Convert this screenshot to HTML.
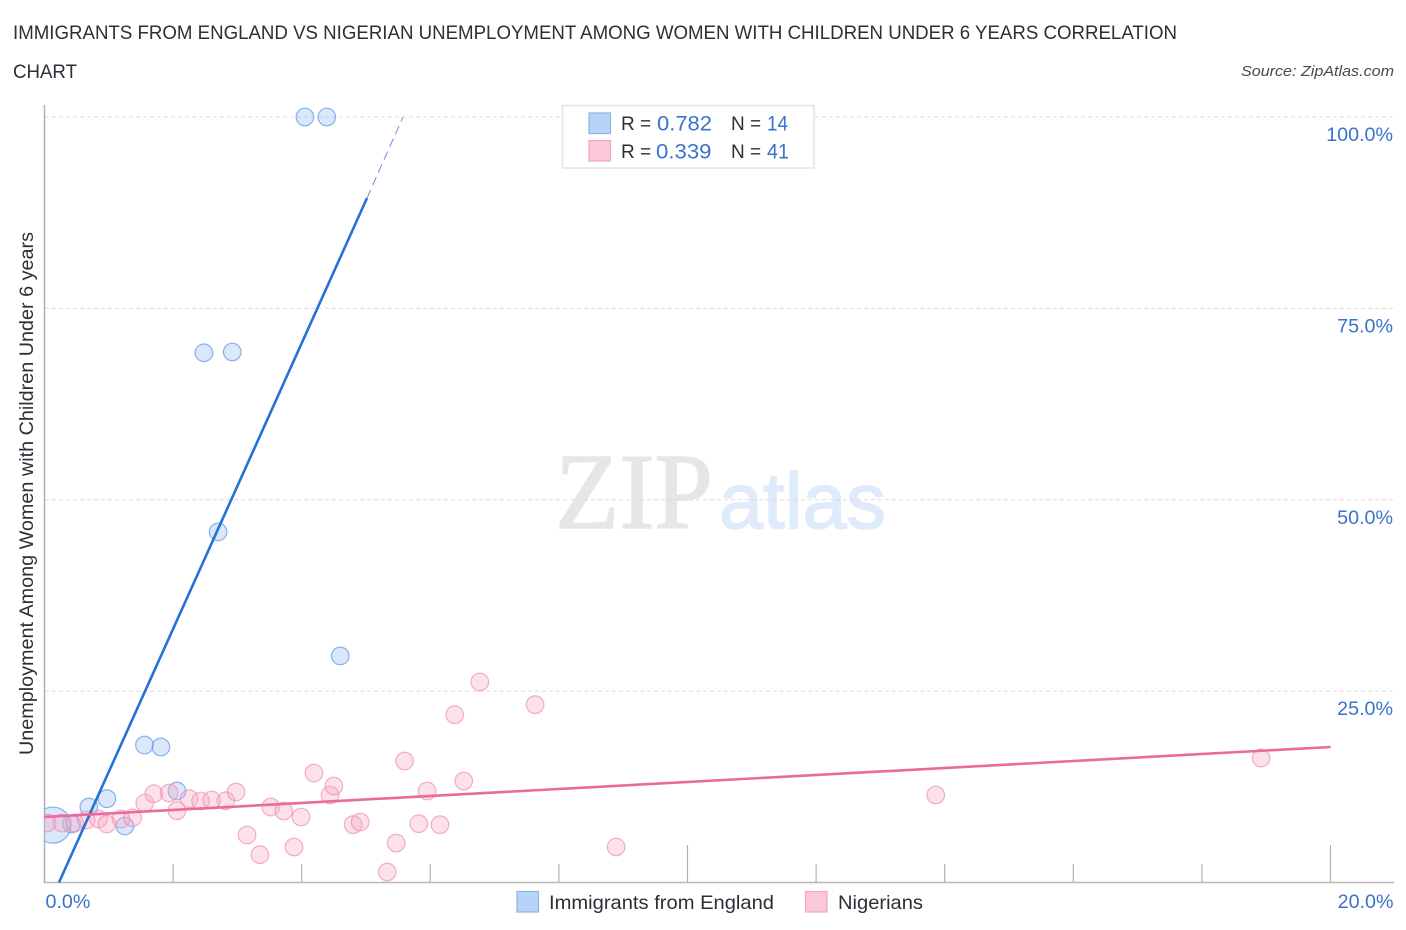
<!DOCTYPE html>
<html lang="en">
<head>
<meta charset="utf-8">
<title>Immigrants from England vs Nigerian Unemployment Correlation Chart</title>
<style>
  html, body { margin: 0; padding: 0; background: #fff; }
  svg { display: block; font-family: "Liberation Sans", sans-serif; }
  .blue { fill: #3a72cc; }
  .dark { fill: #2b2f36; }
</style>
</head>
<body>
<svg id="chart" xmlns="http://www.w3.org/2000/svg" width="1406" height="930" viewBox="0 0 1406 930">
  <defs>
    <clipPath id="plot-clip"><rect x="44.5" y="90" width="1350" height="793"/></clipPath>
  </defs>
  <rect x="0" y="0" width="1406" height="930" fill="#fff"/>

  <text class="dark" x="13" y="39" font-size="19" textLength="1164" lengthAdjust="spacingAndGlyphs">IMMIGRANTS FROM ENGLAND VS NIGERIAN UNEMPLOYMENT AMONG WOMEN WITH CHILDREN UNDER 6 YEARS CORRELATION</text>
  <text class="dark" x="13" y="78" font-size="19" textLength="64" lengthAdjust="spacingAndGlyphs">CHART</text>
  <text x="1394" y="76" font-size="15" font-style="italic" text-anchor="end" fill="#444a52" textLength="153" lengthAdjust="spacingAndGlyphs">Source: ZipAtlas.com</text>

  <g>
    <text x="555" y="528" font-family="'Liberation Serif', serif" font-size="108" fill="#e6e6e6" stroke="#e6e6e6" stroke-width="1.5" textLength="158" lengthAdjust="spacingAndGlyphs">ZIP</text>
    <text x="719" y="528" font-size="79" fill="#dfeafa" stroke="#dfeafa" stroke-width="1.5" textLength="167" lengthAdjust="spacingAndGlyphs">atlas</text>
  </g>

  <g id="grid"></g>
  <g id="axes"></g>
  <g id="points" clip-path="url(#plot-clip)"></g>
  <g id="trends"></g>
  <g id="tick-labels"></g>

  <text class="dark" transform="translate(33 493.5) rotate(-90)" text-anchor="middle" font-size="19" textLength="523" lengthAdjust="spacingAndGlyphs">Unemployment Among Women with Children Under 6 years</text>

  <g>
    <rect x="562.5" y="105.5" width="251.5" height="62.5" fill="#fff" fill-opacity="0.92" stroke="#e4e4e4" stroke-width="1.5"/>
    <rect x="589" y="113" width="21.5" height="20.5" fill="#b9d3f6" stroke="#8db4ea" stroke-width="1.2"/>
    <rect x="589" y="140.5" width="21.5" height="20.5" fill="#fbc8d8" stroke="#f3a5bf" stroke-width="1.2"/>
    <text class="dark" x="621" y="130" font-size="19">R =</text>
    <text class="blue" x="657" y="130.5" font-size="21" textLength="55" lengthAdjust="spacingAndGlyphs">0.782</text>
    <text class="dark" x="731" y="130" font-size="19">N =</text>
    <text class="blue" x="767" y="130.5" font-size="21" textLength="21" lengthAdjust="spacingAndGlyphs">14</text>
    <text class="dark" x="621" y="158" font-size="19">R =</text>
    <text class="blue" x="656" y="158.5" font-size="21" textLength="55.5" lengthAdjust="spacingAndGlyphs">0.339</text>
    <text class="dark" x="731" y="158" font-size="19">N =</text>
    <text class="blue" x="767" y="158.5" font-size="21" textLength="22" lengthAdjust="spacingAndGlyphs">41</text>
  </g>

  <g>
    <g>
      <rect x="517" y="891.5" width="21.5" height="20.5" fill="#b9d3f6" stroke="#8db4ea" stroke-width="1.2"/>
      <text class="dark" x="549" y="909" font-size="19.5" textLength="225" lengthAdjust="spacingAndGlyphs">Immigrants from England</text>
    </g>
    <g>
      <rect x="805.5" y="891.5" width="21.5" height="20.5" fill="#fbc8d8" stroke="#f3a5bf" stroke-width="1.2"/>
      <text class="dark" x="838" y="909" font-size="19.5" textLength="85" lengthAdjust="spacingAndGlyphs">Nigerians</text>
    </g>
  </g>
</svg>

<script>
const yTickValues = [25, 50, 75, 100];
const yTickLabels = ["25.0%", "50.0%", "75.0%", "100.0%"];
const xTickValues = [2, 4, 6, 8, 10, 12, 14, 16, 18, 20];
const xMajorTicks = [10, 20];
const xEndValues = [0, 20];
const xEndLabels = ["0.0%", "20.0%"];

const englandX = [4.05, 4.39, 2.48, 2.92, 2.70, 4.60, 1.555, 1.81, 2.06, 0.97, 0.69, 1.25, 0.42, 0.13];
const englandY = [100, 100, 69.2, 69.3, 45.8, 29.6, 17.96, 17.7, 11.95, 10.95, 9.86, 7.38, 7.64, 7.5];
const englandWeight = [1, 1, 1, 1, 1, 1, 1, 1, 1, 1, 1, 1, 1, 4.2];

const nigeriansX = [0.04, 0.27, 0.47, 0.65, 0.84, 0.97, 1.19, 1.37, 1.56, 1.70, 1.94, 2.06, 2.25, 2.43, 2.60, 2.82, 2.98, 3.15, 3.35, 3.52, 3.72, 3.88, 3.99, 4.19, 4.44, 4.50, 4.80, 4.91, 5.33, 5.47, 5.60, 5.82, 5.95, 6.15, 6.38, 6.52, 6.77, 7.63, 8.89, 13.86, 18.92];
const nigeriansY = [7.77, 7.77, 7.77, 8.16, 8.3, 7.64, 8.3, 8.46, 10.39, 11.6, 11.69, 9.38, 10.95, 10.65, 10.78, 10.69, 11.82, 6.2, 3.63, 9.86, 9.34, 4.64, 8.56, 14.3, 11.43, 12.6, 7.55, 7.9, 1.37, 5.16, 15.87, 7.68, 11.95, 7.55, 21.92, 13.26, 26.2, 23.23, 4.64, 11.43, 16.26];

const englandTrendX = [0.225, 5.015];
const englandTrendY = [0, 89.4];
const englandTrendExtX = [5.015, 5.575];
const englandTrendExtY = [89.4, 100];
const nigeriansTrendX = [0, 20];
const nigeriansTrendY = [8.56, 17.7];

const NS = 'http://www.w3.org/2000/svg';
function xScale(v) { return 44.5 + v * 64.3; }
function yScale(v) { return 882.5 - v * 7.655; }
function make(parentId, tag, props) {
  const el = document.createElementNS(NS, tag);
  for (const k in props) el.setAttribute(k, props[k]);
  document.getElementById(parentId).appendChild(el);
  return el;
}

yTickValues.forEach(function (v) {
  const el = make('grid', 'line', { x1: 45, x2: 1394, y1: yScale(v), y2: yScale(v), stroke: '#dcdcdc', 'stroke-width': 1, 'stroke-dasharray': '4 3' });
  
  
});

const yAxisLine = make('axes', 'line', { x1: 44.5, x2: 44.5, y1: 105, y2: 883, stroke: '#b0b0b0', 'stroke-width': 1.5 });


const xAxisLine = make('axes', 'line', { x1: 44, x2: 1394, y1: 882.5, y2: 882.5, stroke: '#b8b8b8', 'stroke-width': 1.5 });


xTickValues.forEach(function (v) {
  const top = xMajorTicks.indexOf(v) >= 0 ? 845 : 864;
  const el = make('axes', 'line', { x1: xScale(v), x2: xScale(v), y1: top, y2: 882, stroke: '#b0b0b0', 'stroke-width': 1.2 });
  
  
});

englandX.forEach(function (v, i) {
  const el = make('points', 'circle', { cx: xScale(v), cy: yScale(englandY[i]), r: 8.8 * Math.sqrt(englandWeight[i]), fill: 'rgba(150,190,240,0.36)', stroke: 'rgba(95,150,228,0.72)', 'stroke-width': 1.2 });
  
  
});
nigeriansX.forEach(function (v, i) {
  const el = make('points', 'circle', { cx: xScale(v), cy: yScale(nigeriansY[i]), r: 8.8, fill: 'rgba(246,170,196,0.36)', stroke: 'rgba(236,130,168,0.62)', 'stroke-width': 1.2 });
  
  
});

const englandTrend = make('trends', 'line', { x1: xScale(englandTrendX[0]), y1: yScale(englandTrendY[0]), x2: xScale(englandTrendX[1]), y2: yScale(englandTrendY[1]), stroke: '#2471d8', 'stroke-width': 2.6 });


const englandExt = make('trends', 'line', { x1: xScale(englandTrendExtX[0]), y1: yScale(englandTrendExtY[0]), x2: xScale(englandTrendExtX[1]), y2: yScale(englandTrendExtY[1]), stroke: '#6f8fd8', 'stroke-width': 1, 'stroke-dasharray': '9 5' });


const nigeriansTrend = make('trends', 'line', { x1: xScale(nigeriansTrendX[0]), y1: yScale(nigeriansTrendY[0]), x2: xScale(nigeriansTrendX[1]), y2: yScale(nigeriansTrendY[1]), stroke: '#e96b9b', 'stroke-width': 2.6 });



yTickLabels.forEach(function (label, i) {
  const el = make('tick-labels', 'text', { x: 1393, y: yScale(yTickValues[i]) + 24, 'text-anchor': 'end', 'font-size': 19.7, fill: '#3a72cc' });
  el.textContent = label;
  
  
});
xEndLabels.forEach(function (label, i) {
  const el = make('tick-labels', 'text', { x: i === 0 ? xScale(xEndValues[i]) + 1 : xScale(xEndValues[i]) + 63, y: 908, 'text-anchor': i === 0 ? 'start' : 'end', 'font-size': 19.7, fill: '#3a72cc' });
  el.textContent = label;
  
  
});
</script>
</body>
</html>
